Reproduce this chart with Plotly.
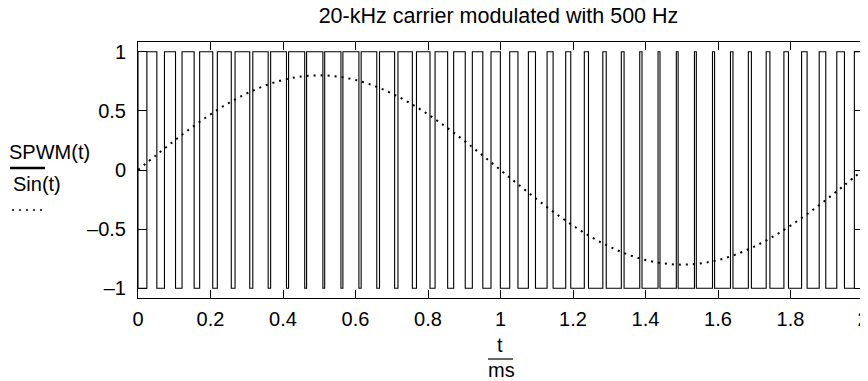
import plotly.graph_objects as go

# ---- data ----
# SPWM(t): start / end times (ms) of each low (-1) pulse; the signal is +1 elsewhere
low_start = [0.0000, 0.0520, 0.1035, 0.1549, 0.2062, 0.2573, 0.3083, 0.3591, 0.4096, 0.4599,
             0.5100, 0.5598, 0.6094, 0.6587, 0.7079, 0.7568, 0.8055, 0.8542, 0.9027, 0.9512,
             0.9996, 1.0481, 1.0965, 1.1451, 1.1938, 1.2427, 1.2917, 1.3409, 1.3904, 1.4400,
             1.4900, 1.5402, 1.5906, 1.6413, 1.6921, 1.7432, 1.7944, 1.8458, 1.8973, 1.9488]
low_end = [0.0245, 0.0730, 0.1215, 0.1701, 0.2188, 0.2677, 0.3167, 0.3659, 0.4154, 0.4651,
           0.5150, 0.5652, 0.6156, 0.6663, 0.7171, 0.7682, 0.8195, 0.8708, 0.9223, 0.9738,
           1.0254, 1.0769, 1.1285, 1.1799, 1.2312, 1.2823, 1.3333, 1.3841, 1.4346, 1.4850,
           1.5350, 1.5848, 1.6344, 1.6837, 1.7329, 1.7818, 1.8306, 1.8792, 1.9277, 1.9762]

# Sin(t) reference curve (dotted)
sin_t = [0.00, 0.05, 0.10, 0.15, 0.20, 0.25, 0.30, 0.35, 0.40, 0.45,
         0.50, 0.55, 0.60, 0.65, 0.70, 0.75, 0.80, 0.85, 0.90, 0.95,
         1.00, 1.05, 1.10, 1.15, 1.20, 1.25, 1.30, 1.35, 1.40, 1.45,
         1.50, 1.55, 1.60, 1.65, 1.70, 1.75, 1.80, 1.85, 1.90, 1.95, 2.00]
sin_v = [0.000, 0.125, 0.247, 0.363, 0.470, 0.566, 0.647, 0.713, 0.761, 0.790,
         0.800, 0.790, 0.761, 0.713, 0.647, 0.566, 0.470, 0.363, 0.247, 0.125,
         0.000, -0.125, -0.247, -0.363, -0.470, -0.566, -0.647, -0.713, -0.761, -0.790,
         -0.800, -0.790, -0.761, -0.713, -0.647, -0.566, -0.470, -0.363, -0.247, -0.125, 0.000]

x_ticks = [0, 0.2, 0.4, 0.6, 0.8, 1.0, 1.2, 1.4, 1.6, 1.8, 2.0]
x_ticktext = ["0", "0.2", "0.4", "0.6", "0.8", "1", "1.2", "1.4", "1.6", "1.8", "2"]
y_ticks = [-1, -0.5, 0, 0.5, 1]
y_ticktext = ["\u20131", "\u20130.5", "0", "0.5", "1"]

T_END = 2.0
HIGH, LOW = 1, -1

# build the square-wave path from the pulse edges
px, py = [0.0], [HIGH]
for s, e in zip(low_start, low_end):
    px += [s, s, e, e]
    py += [HIGH, LOW, LOW, HIGH]
px.append(T_END)
py.append(HIGH)

FONT = "Liberation Sans, Arial, Helvetica, sans-serif"

fig = go.Figure()
fig.add_trace(go.Scatter(x=px, y=py, mode="lines",
                         line=dict(color="black", width=1.1),
                         hoverinfo="skip", showlegend=False))
fig.add_trace(go.Scatter(x=sin_t, y=sin_v, mode="lines",
                         line=dict(color="black", width=2, dash="2px,5px", shape="spline"),
                         hoverinfo="skip", showlegend=False))

# the page body keeps its default 8px margin, so the figure is drawn 8px in
OFF = 8
W, H = 868 - OFF, 381 - OFF
L, R, T, B = 138 - OFF, 5, 42 - OFF, 83
pw, ph = W - L - R, H - T - B


def pxx(x):
    """page pixel x -> paper coordinate"""
    return (x - OFF - L) / pw


def pyy(y):
    """page pixel y -> paper coordinate"""
    return (H - B - (y - OFF)) / ph


fig.update_layout(
    width=W, height=H, autosize=False,
    margin=dict(l=L, r=R, t=T, b=B, pad=0, autoexpand=False),
    paper_bgcolor="white", plot_bgcolor="white",
    font=dict(family=FONT, size=20, color="black"),
    title=dict(text="20-kHz carrier modulated with 500 Hz",
               x=pxx(498.5), xref="paper", xanchor="center",
               y=1 - (15.5 - OFF) / H, yref="container", yanchor="middle",
               automargin=False,
               font=dict(family=FONT, size=21.5, color="black")),
    showlegend=False,
)
fig.update_xaxes(range=[0, 2], tickvals=x_ticks, ticktext=x_ticktext,
                 automargin=False,
                 showgrid=False, zeroline=False,
                 showline=True, linecolor="black", linewidth=1, mirror="ticks",
                 ticks="inside", ticklen=8, tickwidth=1, tickcolor="black",
                 ticklabelstandoff=3, ticklabeloverflow="allow")
fig.update_yaxes(range=[-1.082, 1.082], tickvals=y_ticks, ticktext=y_ticktext,
                 automargin=False,
                 showgrid=False, zeroline=False,
                 showline=True, linecolor="black", linewidth=1, mirror="ticks",
                 ticks="inside", ticklen=9, tickwidth=1, tickcolor="black",
                 ticklabelstandoff=7, ticklabeloverflow="allow")

annos = [
    dict(text="SPWM(t)", x=pxx(49), y=pyy(152)),
    dict(text="Sin(t)", x=pxx(37), y=pyy(184)),
    dict(text="t", x=pxx(500), y=pyy(345)),
    dict(text="ms", x=pxx(501), y=pyy(370)),
]
for a in annos:
    fig.add_annotation(xref="paper", yref="paper", showarrow=False,
                       xanchor="center", yanchor="middle",
                       font=dict(family=FONT, size=20, color="black"), **a)

# legend-like line samples under the y labels, and the fraction bar of t/ms
fig.add_shape(type="line", xref="paper", yref="paper",
              x0=pxx(10), x1=pxx(45), y0=pyy(168), y1=pyy(168),
              line=dict(color="black", width=2.5))
fig.add_shape(type="line", xref="paper", yref="paper",
              x0=pxx(12), x1=pxx(44), y0=pyy(210), y1=pyy(210),
              line=dict(color="black", width=1.5, dash="2px,5px"))
fig.add_shape(type="line", xref="paper", yref="paper",
              x0=pxx(488), x1=pxx(513), y0=pyy(359), y1=pyy(359),
              line=dict(color="black", width=1.2))

fig.write_html("out.html", config={"displayModeBar": False})
